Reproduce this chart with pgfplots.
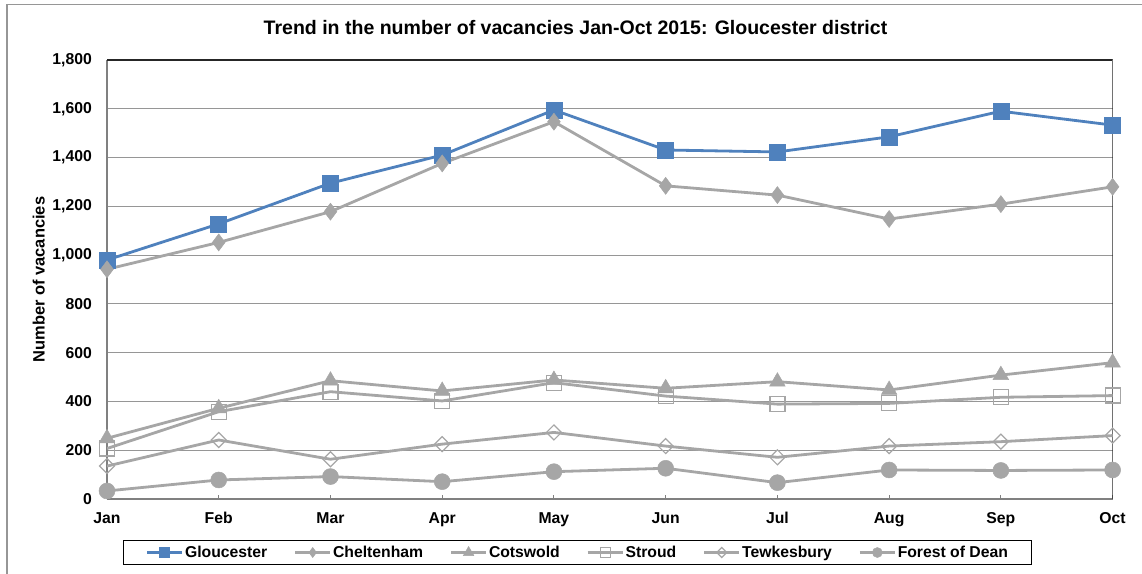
\documentclass[border=0pt]{standalone}
\usepackage{pgfplots}
\pgfplotsset{compat=1.18}
\usepackage{fontspec}
\setmainfont{Liberation Sans}
\definecolor{gblue}{RGB}{79,129,189}
\definecolor{sgrey}{RGB}{166,166,166}
\definecolor{gridc}{RGB}{150,150,150}
\definecolor{axc}{RGB}{128,128,128}
\begin{document}
\begin{tikzpicture}
\path[use as bounding box] (0bp,0bp) rectangle (1142bp,574bp);
\draw[gridc, line width=1.2bp] (7bp,0bp) -- (7bp,569.5bp) -- (1142bp,569.5bp);
\node[font=\fontsize{19.6}{23}\selectfont\bfseries, anchor=base, inner sep=0pt] at (575.5bp,539bp) {Trend in the number of vacancies Jan-Oct 2015: Gloucester district};
\begin{axis}[
  at={(107bp,75bp)}, anchor=south west,
  scale only axis, width=1005.7bp, height=439bp,
  xmin=0, xmax=9, ymin=0, ymax=1800,
  axis x line*=bottom, axis y line*=left,
  xtick={0,...,9},
  xticklabels={Jan,Feb,Mar,Apr,May,Jun,Jul,Aug,Sep,Oct},
  ytick={0,200,...,1800},
  ymajorgrids, grid style={gridc, line width=1bp},
  axis line style={axc, line width=1.2bp, -},
  /pgf/number format/.cd, 1000 sep={,}, assume math mode=true, /pgfplots/.cd,
  ticklabel style={font=\fontsize{15.8}{18}\selectfont\bfseries},
  yticklabel style={inner sep=0pt, xshift=-15bp},
  xticklabel style={inner sep=0pt, yshift=-13bp},
  ytick style={draw=none},
  xtick style={axc, line width=1bp},
  tick align=inside, major tick length=4bp,
  ylabel={Number of vacancies},
  ylabel style={font=\fontsize{16.5}{19}\selectfont\bfseries, at={(axis description cs:-0.068,0.5)}, anchor=center},
  legend columns=6,
  legend style={at={(axis description cs:0.468,-0.1219)}, anchor=center, draw=black, line width=1bp,
    font=\fontsize{15.8}{18}\selectfont\bfseries, inner xsep=22bp, inner ysep=4bp,
    nodes={inner sep=1.5bp},
    /tikz/every even column/.append style={column sep=25bp}},
  legend image code/.code={\draw[mark repeat=2,mark phase=2,#1] plot coordinates {(0bp,0bp) (17.5bp,0bp) (35bp,0bp)};},
]
\draw[black!85, line width=1.2bp] (rel axis cs:0,1) -- (rel axis cs:1,1) -- (rel axis cs:1,0);
\addplot[gblue, line width=2.8bp, mark=square*, mark size=8bp, mark options={solid, line width=0.5bp}, legend image post style={mark size=5bp}]
 coordinates {(0,980) (1,1128) (2,1295) (3,1410) (4,1595) (5,1431) (6,1423) (7,1485) (8,1590) (9,1533)};
\addlegendentry{Gloucester}
\addplot[sgrey, line width=2.8bp, mark=diamond*, mark size=8.5bp, mark options={solid, line width=0.5bp}, legend image post style={mark size=5bp}]
 coordinates {(0,942) (1,1052) (2,1178) (3,1376) (4,1547) (5,1284) (6,1246) (7,1148) (8,1209) (9,1280)};
\addlegendentry{Cheltenham}
\addplot[sgrey, line width=2.8bp, mark=triangle*, mark size=9bp, mark options={solid, line width=0.5bp}, legend image post style={mark size=6bp}]
 coordinates {(0,249) (1,372) (2,485) (3,443) (4,488) (5,454) (6,481) (7,447) (8,508) (9,559)};
\addlegendentry{Cotswold}
\addplot[sgrey, line width=2.8bp, mark=square, mark size=7.5bp, mark options={solid, line width=1.2bp, fill=white}, legend image post style={mark size=5bp}]
 coordinates {(0,207) (1,358) (2,440) (3,402) (4,477) (5,422) (6,389) (7,392) (8,417) (9,424)};
\addlegendentry{Stroud}
\addplot[sgrey, line width=2.8bp, mark=square, mark size=5.3bp, mark options={solid, line width=1.2bp, fill=white, rotate=45}, legend image post style={mark size=3.5bp}]
 coordinates {(0,135) (1,242) (2,163) (3,225) (4,273) (5,217) (6,171) (7,217) (8,235) (9,260)};
\addlegendentry{Tewkesbury}
\addplot[sgrey, line width=2.8bp, mark=*, mark size=8bp, mark options={solid, line width=0.5bp}, legend image post style={mark size=5bp}]
 coordinates {(0,33) (1,78) (2,92) (3,71) (4,112) (5,126) (6,67) (7,119) (8,117) (9,119)};
\addlegendentry{Forest of Dean}
\end{axis}
\end{tikzpicture}
\end{document}
